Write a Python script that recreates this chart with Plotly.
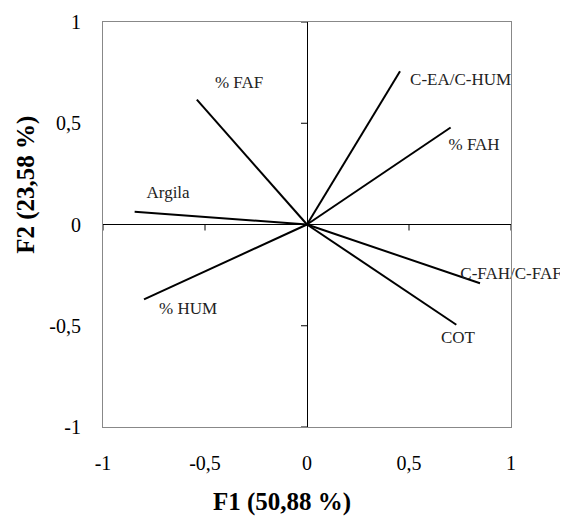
import plotly.graph_objects as go

variables = ["% FAF", "Argila", "C-EA/C-HUM", "% FAH", "% HUM", "C-FAH/C-FAF", "COT"]
f1_load = [-0.54, -0.845, 0.456, 0.704, -0.799, 0.848, 0.732]
f2_load = [0.617, 0.063, 0.757, 0.479, -0.370, -0.290, -0.495]
label_x = [-0.333, -0.681, 0.753, 0.819, -0.583, 1.0, 0.740]
label_y = [0.696, 0.153, 0.708, 0.387, -0.421, -0.247, -0.565]
tick_vals = [-1, -0.5, 0, 0.5, 1]
tick_text = ["-1", "-0,5", "0", "0,5", "1"]
x_title = "F1 (50,88 %)"
y_title = "F2 (23,58 %)"

FONT = "Liberation Serif"

fig = go.Figure()
for name, x, y in zip(variables, f1_load, f2_load):
    fig.add_trace(go.Scatter(x=[0, x], y=[0, y], mode="lines",
                             line=dict(color="black", width=2),
                             showlegend=False, hoverinfo="skip", name=name))

fig.add_trace(go.Scatter(x=label_x, y=label_y, mode="text", text=variables,
                         textfont=dict(family=FONT, size=17, color="#222"),
                         cliponaxis=False,
                         showlegend=False, hoverinfo="skip"))

shapes = []
for v in tick_vals:
    if v == 0:
        continue
    shapes.append(dict(type="line", xref="x", yref="y", x0=v, x1=v,
                       ysizemode="pixel", yanchor=0, y0=0, y1=-6,
                       line=dict(color="black", width=1)))
    shapes.append(dict(type="line", xref="x", yref="y", y0=v, y1=v,
                       xsizemode="pixel", xanchor=0, x0=0, x1=-6,
                       line=dict(color="black", width=1)))

annotations = [
    dict(text="<b>" + x_title + "</b>", xref="paper", yref="paper", x=0.439, y=0,
         yshift=-75, xanchor="center", yanchor="middle", showarrow=False,
         font=dict(family=FONT, size=25, color="black")),
    dict(text="<b>" + y_title + "</b>", xref="paper", yref="paper", x=0, y=0.598,
         xshift=-77, xanchor="center", yanchor="middle", showarrow=False, textangle=-90,
         font=dict(family=FONT, size=25, color="black")),
]

fig.update_layout(
    width=568, height=518,
    margin=dict(l=95, r=65, t=14, b=99, autoexpand=False),
    paper_bgcolor="white", plot_bgcolor="white",
    font=dict(family=FONT, color="black"),
    shapes=shapes,
    annotations=annotations,
    xaxis=dict(range=[-1, 1], tickvals=tick_vals, ticktext=tick_text,
               showgrid=False, zeroline=True, zerolinecolor="black", zerolinewidth=1,
               showline=True, mirror=True, linecolor="#888", linewidth=1,
               ticks="", ticklabelstandoff=18, tickfont=dict(size=20, family=FONT)),
    yaxis=dict(range=[-1, 1], tickvals=tick_vals, ticktext=tick_text,
               showgrid=False, zeroline=True, zerolinecolor="black", zerolinewidth=1,
               showline=True, mirror=True, linecolor="#888", linewidth=1,
               ticks="", ticklabelstandoff=17, tickfont=dict(size=20, family=FONT)),
)

fig.write_html("out.html")
